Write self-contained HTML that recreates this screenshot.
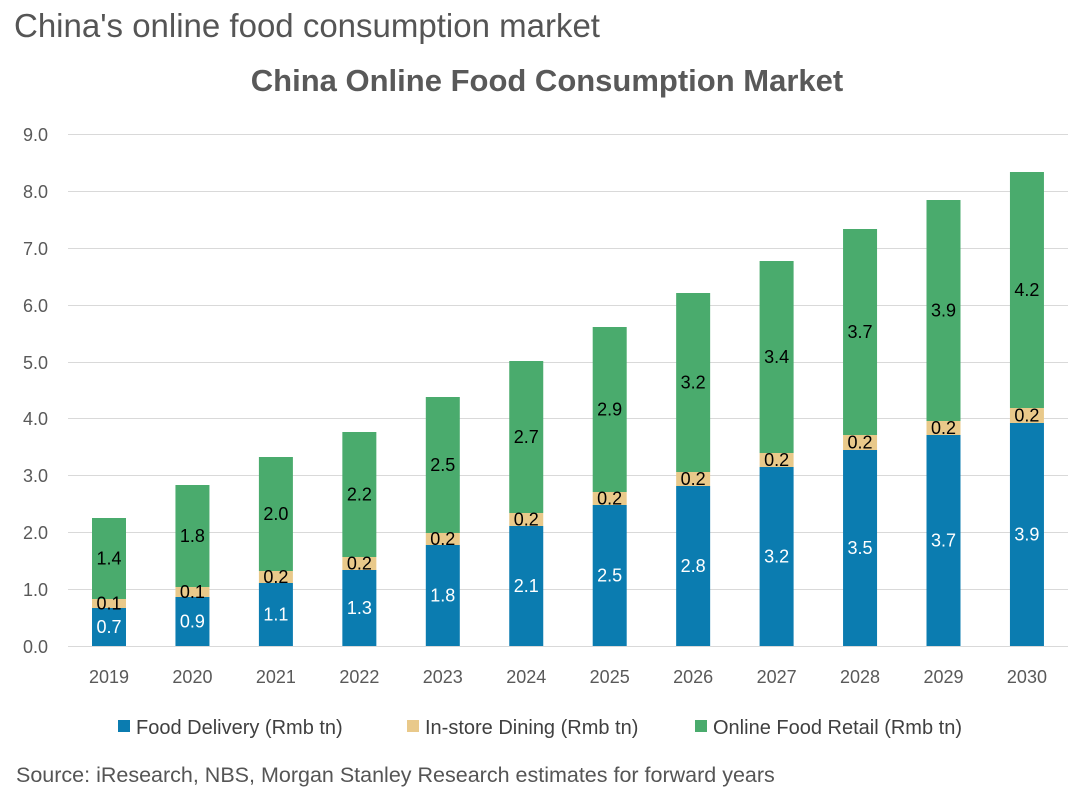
<!DOCTYPE html>
<html><head><meta charset="utf-8"><style>
body{margin:0;background:#fff;width:1080px;height:800px;overflow:hidden;font-family:"Liberation Sans",sans-serif}
</style></head><body>
<svg width="1080" height="800" xmlns="http://www.w3.org/2000/svg" font-family="Liberation Sans, sans-serif">
<text x="14" y="37" font-size="33" fill="#555">China's online food consumption market</text>
<text x="547" y="91" font-size="31" fill="#595959" font-weight="bold" text-anchor="middle">China Online Food Consumption Market</text>
<g stroke="#d9d9d9" stroke-width="1">
<line x1="68" x2="1068" y1="134.5" y2="134.5"/><line x1="68" x2="1068" y1="191.5" y2="191.5"/>
<line x1="68" x2="1068" y1="248.5" y2="248.5"/><line x1="68" x2="1068" y1="305.5" y2="305.5"/>
<line x1="68" x2="1068" y1="362.5" y2="362.5"/><line x1="68" x2="1068" y1="418.5" y2="418.5"/>
<line x1="68" x2="1068" y1="475.5" y2="475.5"/><line x1="68" x2="1068" y1="532.5" y2="532.5"/>
<line x1="68" x2="1068" y1="589.5" y2="589.5"/><line x1="68" x2="1068" y1="646.5" y2="646.5"/>
</g>
<g font-size="18" fill="#595959" text-anchor="end">
<text x="48" y="141">9.0</text><text x="48" y="198">8.0</text><text x="48" y="255">7.0</text>
<text x="48" y="312">6.0</text><text x="48" y="369">5.0</text><text x="48" y="425">4.0</text>
<text x="48" y="482">3.0</text><text x="48" y="539">2.0</text><text x="48" y="596">1.0</text><text x="48" y="653">0.0</text>
</g>
<g>
<rect x="92" y="608" width="34" height="38" fill="#0b7cb0"/><rect x="92" y="599" width="34" height="9" fill="#e9c98a"/><rect x="92" y="518" width="34" height="81" fill="#4aab6d"/>
<rect x="175.45" y="597" width="34" height="49" fill="#0b7cb0"/><rect x="175.45" y="587" width="34" height="10" fill="#e9c98a"/><rect x="175.45" y="485" width="34" height="102" fill="#4aab6d"/>
<rect x="258.9" y="583" width="34" height="63" fill="#0b7cb0"/><rect x="258.9" y="571" width="34" height="12" fill="#e9c98a"/><rect x="258.9" y="457" width="34" height="114" fill="#4aab6d"/>
<rect x="342.35" y="570" width="34" height="76" fill="#0b7cb0"/><rect x="342.35" y="557" width="34" height="13" fill="#e9c98a"/><rect x="342.35" y="432" width="34" height="125" fill="#4aab6d"/>
<rect x="425.8" y="545" width="34" height="101" fill="#0b7cb0"/><rect x="425.8" y="533" width="34" height="12" fill="#e9c98a"/><rect x="425.8" y="397" width="34" height="136" fill="#4aab6d"/>
<rect x="509.25" y="526" width="34" height="120" fill="#0b7cb0"/><rect x="509.25" y="513" width="34" height="13" fill="#e9c98a"/><rect x="509.25" y="361" width="34" height="152" fill="#4aab6d"/>
<rect x="592.7" y="505" width="34" height="141" fill="#0b7cb0"/><rect x="592.7" y="492" width="34" height="13" fill="#e9c98a"/><rect x="592.7" y="327" width="34" height="165" fill="#4aab6d"/>
<rect x="676.15" y="486" width="34" height="160" fill="#0b7cb0"/><rect x="676.15" y="472" width="34" height="14" fill="#e9c98a"/><rect x="676.15" y="293" width="34" height="179" fill="#4aab6d"/>
<rect x="759.6" y="467" width="34" height="179" fill="#0b7cb0"/><rect x="759.6" y="453" width="34" height="14" fill="#e9c98a"/><rect x="759.6" y="261" width="34" height="192" fill="#4aab6d"/>
<rect x="843.05" y="450" width="34" height="196" fill="#0b7cb0"/><rect x="843.05" y="435" width="34" height="15" fill="#e9c98a"/><rect x="843.05" y="229" width="34" height="206" fill="#4aab6d"/>
<rect x="926.5" y="435" width="34" height="211" fill="#0b7cb0"/><rect x="926.5" y="421" width="34" height="14" fill="#e9c98a"/><rect x="926.5" y="200" width="34" height="221" fill="#4aab6d"/>
<rect x="1009.95" y="423" width="34" height="223" fill="#0b7cb0"/><rect x="1009.95" y="408" width="34" height="15" fill="#e9c98a"/><rect x="1009.95" y="172" width="34" height="236" fill="#4aab6d"/>
</g>
<g font-size="18" fill="#fff" text-anchor="middle">
<text x="109" y="633">0.7</text><text x="192.45" y="627.5">0.9</text><text x="275.9" y="620.5">1.1</text><text x="359.35" y="614">1.3</text>
<text x="442.8" y="601.5">1.8</text><text x="526.25" y="592">2.1</text><text x="609.7" y="581.5">2.5</text><text x="693.15" y="572">2.8</text>
<text x="776.6" y="562.5">3.2</text><text x="860.05" y="554">3.5</text><text x="943.5" y="546.5">3.7</text><text x="1026.95" y="540.5">3.9</text>
</g>
<g font-size="18" fill="#000" text-anchor="middle">
<text x="109" y="609.5">0.1</text><text x="192.45" y="598">0.1</text><text x="275.9" y="583">0.2</text><text x="359.35" y="569.5">0.2</text>
<text x="442.8" y="545">0.2</text><text x="526.25" y="525.5">0.2</text><text x="609.7" y="504.5">0.2</text><text x="693.15" y="485">0.2</text>
<text x="776.6" y="466">0.2</text><text x="860.05" y="448.5">0.2</text><text x="943.5" y="434">0.2</text><text x="1026.95" y="421.5">0.2</text>
<text x="109" y="564.5">1.4</text><text x="192.45" y="542">1.8</text><text x="275.9" y="520">2.0</text><text x="359.35" y="500.5">2.2</text>
<text x="442.8" y="471">2.5</text><text x="526.25" y="443">2.7</text><text x="609.7" y="415.5">2.9</text><text x="693.15" y="388.5">3.2</text>
<text x="776.6" y="363">3.4</text><text x="860.05" y="338">3.7</text><text x="943.5" y="316.5">3.9</text><text x="1026.95" y="296">4.2</text>
</g>
<g font-size="18" fill="#595959" text-anchor="middle">
<text x="109" y="683">2019</text><text x="192.45" y="683">2020</text><text x="275.9" y="683">2021</text><text x="359.35" y="683">2022</text>
<text x="442.8" y="683">2023</text><text x="526.25" y="683">2024</text><text x="609.7" y="683">2025</text><text x="693.15" y="683">2026</text>
<text x="776.6" y="683">2027</text><text x="860.05" y="683">2028</text><text x="943.5" y="683">2029</text><text x="1026.95" y="683">2030</text>
</g>
<g font-size="20" fill="#404040">
<rect x="118" y="720" width="12" height="12" fill="#0b7cb0"/><text x="136" y="734">Food Delivery (Rmb tn)</text>
<rect x="407" y="720" width="12" height="12" fill="#e9c98a"/><text x="425" y="734">In-store Dining (Rmb tn)</text>
<rect x="695" y="720" width="12" height="12" fill="#4aab6d"/><text x="713" y="734">Online Food Retail (Rmb tn)</text>
</g>
<text x="16" y="782" font-size="21.5" fill="#555">Source: iResearch, NBS, Morgan Stanley Research estimates for forward years</text>
</svg>
</body></html>
